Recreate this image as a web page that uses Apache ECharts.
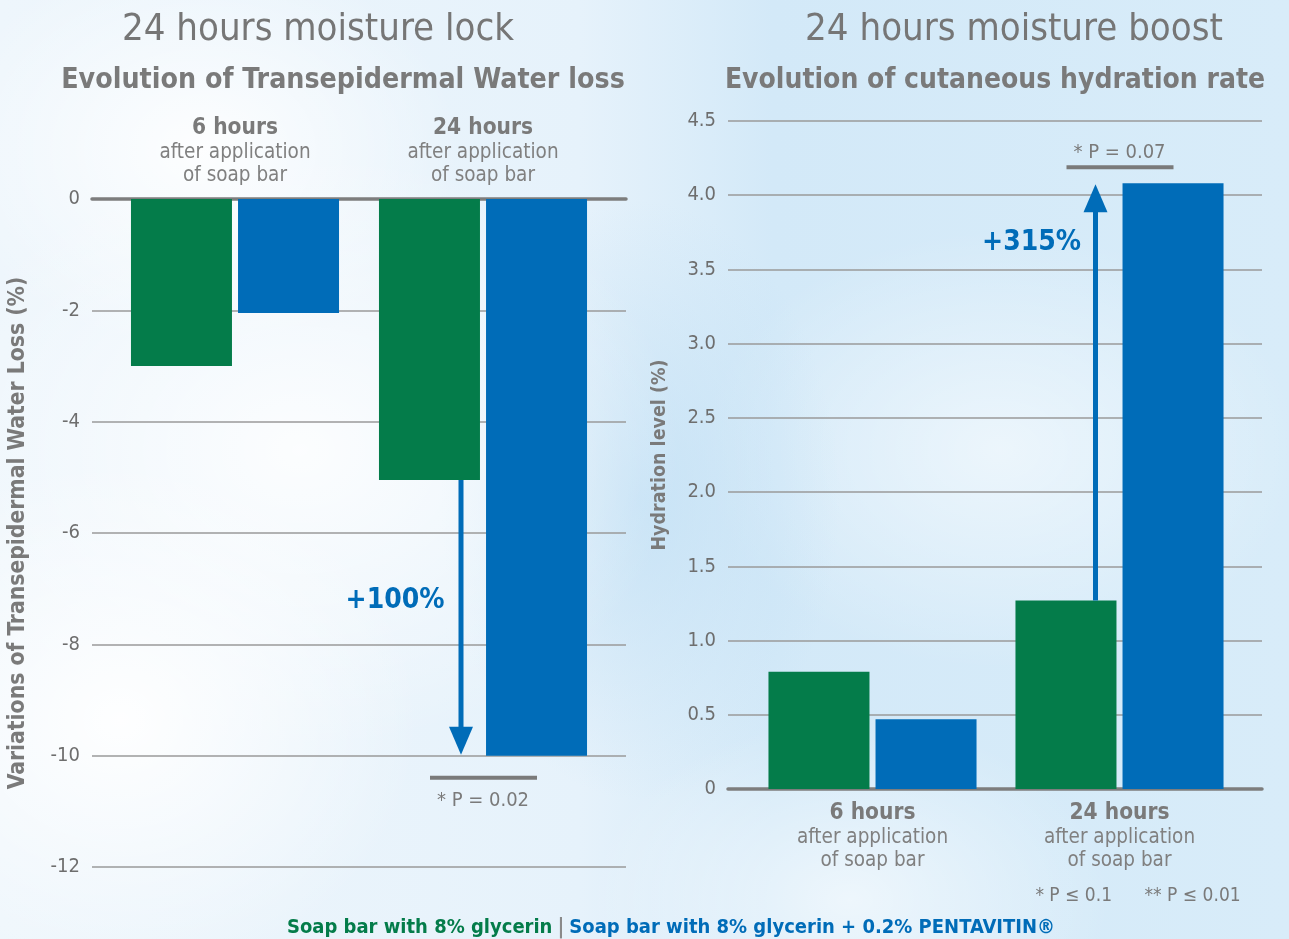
<!DOCTYPE html>
<html>
<head>
<meta charset="utf-8">
<script src="https://cdn.jsdelivr.net/npm/echarts@6/dist/echarts.min.js"></script>
<style>
html,body{margin:0;padding:0;}
#wrap{width:1289px;height:939px;position:relative;overflow:hidden;
background:
 radial-gradient(ellipse 300px 260px at 120px 720px, rgba(255,255,255,0.95), rgba(255,255,255,0) 100%),
 radial-gradient(ellipse 380px 300px at 300px 450px, rgba(255,255,255,0.85), rgba(255,255,255,0) 100%),
 radial-gradient(ellipse 260px 200px at 200px 150px, rgba(255,255,255,0.9), rgba(255,255,255,0) 100%),
 radial-gradient(ellipse 200px 300px at 640px 500px, rgba(190,222,244,0.7), rgba(190,222,244,0) 100%),
 radial-gradient(ellipse 300px 220px at 1000px 450px, rgba(255,255,255,0.55), rgba(255,255,255,0) 100%),
 radial-gradient(ellipse 260px 180px at 850px 900px, rgba(255,255,255,0.6), rgba(255,255,255,0) 100%),
 linear-gradient(90deg, #eef6fc 0%, #e6f2fb 45%, #d3e9f8 60%, #d8ecf9 100%);}
#chart{width:1289px;height:939px;}
</style>
</head>
<body>
<div id="wrap"><div id="chart"></div></div>
<script>
// ---------- data ----------
const categories = ['6 hours', '24 hours'];
const catSub1 = 'after application';
const catSub2 = 'of soap bar';

// Left panel: variations of TEWL (%)
const lockGreen = [-3.0, -5.05];   // Soap bar with 8% glycerin
const lockBlue  = [-2.05, -10.0];  // + 0.2% PENTAVITIN
const lockTicks = {min: -12, max: 0, interval: 2};

// Right panel: hydration level (%)
const boostGreen = [0.79, 1.27];
const boostBlue  = [0.47, 4.08];
const boostTicks = {min: 0, max: 4.5, interval: 0.5};

const lockGain = '+100%';
const lockP = '* P = 0.02';
const boostGain = '+315%';
const boostP = '* P = 0.07';
const footnote = '* P ≤ 0.1      ** P ≤ 0.01';

const seriesNames = ['Soap bar with 8% glycerin', 'Soap bar with 8% glycerin + 0.2% PENTAVITIN®'];
const titles = ['24 hours moisture lock', '24 hours moisture boost'];
const subtitles = ['Evolution of Transepidermal Water loss', 'Evolution of cutaneous hydration rate'];
const yNames = ['Variations of Transepidermal Water Loss (%)', 'Hydration level (%)'];

// ---------- style ----------
const FONT = "'Liberation Sans Narrow','DejaVu Sans Condensed','Roboto',sans-serif";
const GREEN = '#047c4a';
const BLUE = '#006cb8';
const AX = '#7d7d7d';

const chart = echarts.init(document.getElementById('chart'), null, {renderer: 'canvas'});

function catLabel() {
  return {
    show: true,
    margin: 12,
    interval: 0,
    formatter: v => '{a|' + v + '}\n{b|' + catSub1 + '}\n{b|' + catSub2 + '}',
    rich: {
      a: {fontFamily: FONT, fontSize: 22.5, fontWeight: 'bold', color: '#7a7a7a', lineHeight: 25, align: 'center'},
      b: {fontFamily: FONT, fontSize: 20.5, color: '#808080', lineHeight: 23, align: 'center'}
    }
  };
}

function annot(opts) {
  // data item: [catIndex, fromValue, toValue]
  return {
    type: 'custom',
    xAxisIndex: opts.axis, yAxisIndex: opts.axis,
    silent: true, z: 10,
    data: [opts.data],
    renderItem: function (params, api) {
      const from = api.coord([api.value(0), api.value(1)]);
      const to = api.coord([api.value(0), api.value(2)]);
      const cx = from[0];
      const ax = cx + opts.dx;
      const dir = to[1] > from[1] ? 1 : -1;
      const headH = 28, headW = 12;
      const tipY = to[1] - dir * 1;
      const baseY = tipY - dir * headH;
      const lineY = to[1] + opts.pOffset;
      return {
        type: 'group',
        children: [
          {type: 'line', shape: {x1: ax, y1: from[1], x2: ax, y2: baseY + dir * 4}, style: {stroke: BLUE, lineWidth: 5}},
          {type: 'polygon', shape: {points: [[ax - headW, baseY], [ax + headW, baseY], [ax, tipY]]}, style: {fill: BLUE}},
          {type: 'line', shape: {x1: cx - 53, y1: lineY, x2: cx + 54, y2: lineY}, style: {stroke: '#7a7a7a', lineWidth: 4}},
          {type: 'text', x: cx, y: lineY + opts.pTextDy, style: {text: opts.pText, font: '20px ' + FONT, fill: '#7a7a7a', textAlign: 'center', textVerticalAlign: 'middle'}},
          {type: 'text', x: ax + opts.gdx, y: (opts.gFromTip ? tipY : from[1]) + opts.gdy, style: {text: opts.gain, font: 'bold 28px ' + FONT, fill: BLUE, textAlign: 'center', textVerticalAlign: 'middle'}}
        ]
      };
    }
  };
}

const yLabel = {fontFamily: FONT, fontSize: 20, color: '#6e6e6e', margin: 12};

const option = {
  animation: false,
  backgroundColor: 'transparent',
  title: [
    {text: titles[0], left: 313, top: 6, textAlign: 'center', textStyle: {fontFamily: FONT, fontSize: 38, fontWeight: 'normal', color: '#767676'}},
    {text: subtitles[0], left: 338, top: 62, textAlign: 'center', textStyle: {fontFamily: FONT, fontSize: 28.3, fontWeight: 'bold', color: '#7a7a7a'}},
    {text: titles[1], left: 1009, top: 6, textAlign: 'center', textStyle: {fontFamily: FONT, fontSize: 38, fontWeight: 'normal', color: '#767676'}},
    {text: subtitles[1], left: 990, top: 62, textAlign: 'center', textStyle: {fontFamily: FONT, fontSize: 28, fontWeight: 'bold', color: '#7a7a7a'}},
    {text: footnote, left: 1133, top: 882, textAlign: 'center', textStyle: {fontFamily: FONT, fontSize: 19, fontWeight: 'normal', color: '#7a7a7a'}},
    {text: '{g|' + seriesNames[0] + '} {s||} {b|' + seriesNames[1] + '}', left: 666, top: 912, textAlign: 'center',
      textStyle: {rich: {
        g: {fontFamily: FONT, fontSize: 20, fontWeight: 'bold', color: GREEN},
        s: {fontFamily: FONT, fontSize: 21, color: '#8a8a8a'},
        b: {fontFamily: FONT, fontSize: 20, fontWeight: 'bold', color: BLUE}
      }}}
  ],
  grid: [
    {left: 92, width: 534, top: 199, height: 668},      // 0 left frame
    {left: 111, width: 496, top: 199, height: 668},     // 1 left bars
    {left: 728, width: 534, top: 121, height: 668},     // 2 right frame
    {left: 749, width: 494, top: 121, height: 668}      // 3 right bars
  ],
  xAxis: [
    {gridIndex: 0, type: 'category', data: categories, position: 'top', axisLine: {show: true, lineStyle: {color: AX, width: 3.5}}, axisTick: {show: false}, axisLabel: {show: false}},
    {gridIndex: 1, type: 'category', data: categories, position: 'top', axisLine: {show: false}, axisTick: {show: false}, axisLabel: catLabel()},
    {gridIndex: 2, type: 'category', data: categories, position: 'bottom', axisLine: {show: true, lineStyle: {color: AX, width: 3.5}}, axisTick: {show: false}, axisLabel: {show: false}},
    {gridIndex: 3, type: 'category', data: categories, position: 'bottom', axisLine: {show: false}, axisTick: {show: false}, axisLabel: catLabel()}
  ],
  yAxis: [
    {gridIndex: 0, type: 'value', min: lockTicks.min, max: lockTicks.max, interval: lockTicks.interval,
      name: yNames[0], nameLocation: 'middle', nameGap: 62, nameRotate: 90,
      nameTextStyle: {fontFamily: FONT, fontSize: 22.7, fontWeight: 'bold', color: '#7a7a7a'},
      axisLine: {show: false}, axisTick: {show: false}, axisLabel: yLabel,
      splitLine: {show: true, lineStyle: {color: '#9a9a9a', width: 1.5}}},
    {gridIndex: 1, type: 'value', min: lockTicks.min, max: lockTicks.max, interval: lockTicks.interval, show: false, splitLine: {show: false}},
    {gridIndex: 2, type: 'value', min: boostTicks.min, max: boostTicks.max, interval: boostTicks.interval,
      name: yNames[1], nameLocation: 'middle', nameGap: 58, nameRotate: 90,
      nameTextStyle: {fontFamily: FONT, fontSize: 19.5, fontWeight: 'bold', color: '#7a7a7a'},
      axisLine: {show: false}, axisTick: {show: false},
      axisLabel: Object.assign({}, yLabel, {formatter: v => v === 0 ? '0' : v.toFixed(1)}),
      splitLine: {show: true, lineStyle: {color: '#9a9a9a', width: 1.5}}},
    {gridIndex: 3, type: 'value', min: boostTicks.min, max: boostTicks.max, interval: boostTicks.interval, show: false, splitLine: {show: false}}
  ],
  series: [
    {name: seriesNames[0], type: 'bar', xAxisIndex: 1, yAxisIndex: 1, data: lockGreen, barWidth: 101, barGap: '6%', itemStyle: {color: GREEN}, z: 3},
    {name: seriesNames[1], type: 'bar', xAxisIndex: 1, yAxisIndex: 1, data: lockBlue, barWidth: 101, barGap: '6%', itemStyle: {color: BLUE}, z: 3},
    {name: seriesNames[0], type: 'bar', xAxisIndex: 3, yAxisIndex: 3, data: boostGreen, barWidth: 101, barGap: '6%', itemStyle: {color: GREEN}, z: 3},
    {name: seriesNames[1], type: 'bar', xAxisIndex: 3, yAxisIndex: 3, data: boostBlue, barWidth: 101, barGap: '6%', itemStyle: {color: BLUE}, z: 3},
    annot({axis: 1, data: [1, lockGreen[1], lockBlue[1]], dx: -22, pOffset: 22, pTextDy: 23, pText: lockP, gain: lockGain, gdx: -66, gdy: 121, gFromTip: false}),
    annot({axis: 3, data: [1, boostGreen[1], boostBlue[1]], dx: -24, pOffset: -16, pTextDy: -15, pText: boostP, gain: boostGain, gdx: -64, gdy: 58, gFromTip: true})
  ]
};
chart.setOption(option);
</script>
</body>
</html>
